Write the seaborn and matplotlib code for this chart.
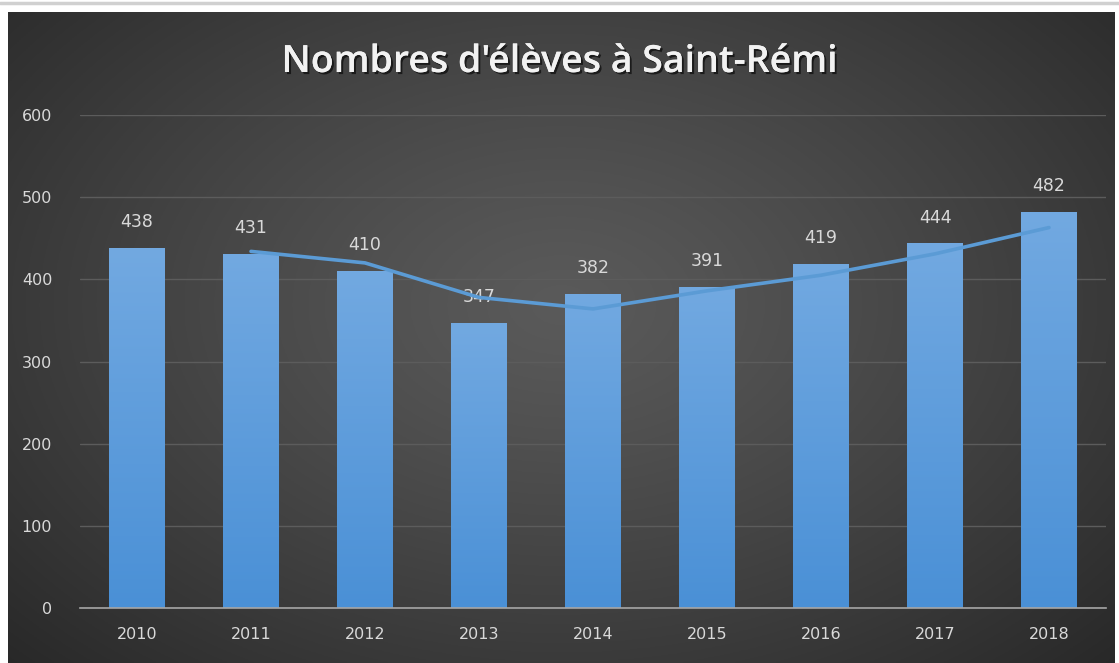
import numpy as np
import matplotlib.pyplot as plt
import matplotlib.patheffects as pe
from matplotlib.colors import LinearSegmentedColormap
from matplotlib.lines import Line2D
import seaborn as sns

years = ['2010', '2011', '2012', '2013', '2014', '2015', '2016', '2017', '2018']
students = [438, 431, 410, 347, 382, 391, 419, 444, 482]
# moving-average trend line (starts at 2011)
trend_years = ['2011', '2012', '2013', '2014', '2015', '2016', '2017', '2018']
trend_values = [434, 420, 378, 364, 386, 405, 431, 463]
y_ticks = [0, 100, 200, 300, 400, 500, 600]

TEXT = '#d9d9d9'
W, H = 1119, 663


def radial_background(ax):
    """Dark radial gradient like the Excel chart style."""
    yy, xx = np.mgrid[0:1:300j, 0:1:500j]
    r = np.sqrt(((xx - 0.5) / 0.75) ** 2 + ((yy - 0.45) / 0.85) ** 2)
    r = np.clip(r, 0, 1)
    v = (0x5a - (0x5a - 0x24) * r ** 1.2) / 255.0
    img = np.dstack([v, v, v])
    ax.imshow(img, aspect='auto', extent=[0, 1, 0, 1], origin='upper')
    ax.set_axis_off()


def main() -> None:
    sns.set_theme(style='dark')
    plt.rcParams['font.family'] = ['DejaVu Sans']

    fig = plt.figure(figsize=(W / 100, H / 100), dpi=100)
    fig.patch.set_facecolor('white')
    fig.add_artist(Line2D([0, 1], [1 - 3 / H, 1 - 3 / H], color='#d0d0d0',
                          linewidth=2.5, transform=fig.transFigure))

    # BACKGROUND PANEL
    bg = fig.add_axes([8 / W, 0, 1107 / W, 651 / H])
    radial_background(bg)

    # MAIN AX
    ax = fig.add_axes([80 / W, 55 / H, 1026 / W, 493 / H])
    ax.set_facecolor('none')
    sns.barplot(ax=ax, x=years, y=students, width=0.49, color='#5b9bd5',
                saturation=1, linewidth=0, edgecolor='none', zorder=2)

    bar_cmap = LinearSegmentedColormap.from_list('bar', ['#4a90d6', '#72a9e1'])
    grad = np.linspace(0, 1, 256).reshape(-1, 1)
    for patch in ax.patches:
        x0, y0 = patch.get_x(), patch.get_y()
        w, h = patch.get_width(), patch.get_height()
        im = ax.imshow(grad, cmap=bar_cmap, aspect='auto', origin='lower',
                       extent=[x0, x0 + w, y0, y0 + h], zorder=2.5)
        im.set_clip_path(patch)

    ax.bar_label(ax.containers[0], padding=12, color=TEXT, fontsize=12.5)

    trend_x = [years.index(y) for y in trend_years]
    sns.lineplot(ax=ax, x=trend_x, y=trend_values, color='#5b9bd5',
                 linewidth=2.6, zorder=3)

    ax.set_xlim(-0.5, len(years) - 0.5)
    ax.set_ylim(0, 600)
    ax.set_yticks(y_ticks)
    ax.set_xlabel('')
    ax.set_ylabel('')
    ax.yaxis.grid(True, color='#5c5c5c', linewidth=1)
    ax.xaxis.grid(False)
    ax.set_axisbelow(True)
    for side in ['top', 'right', 'left']:
        ax.spines[side].set_visible(False)
    ax.spines['bottom'].set_color('#a6a6a6')
    ax.spines['bottom'].set_linewidth(1.2)
    ax.tick_params(axis='x', colors=TEXT, labelsize=11.5, length=0, pad=14)
    ax.tick_params(axis='y', colors=TEXT, labelsize=11.5, length=0, pad=20)

    # TITLE
    fig.text(0.5, 1 - 62 / H, "Nombres d'élèves à Saint-Rémi", ha='center',
             va='center', color='#f2f2f2', fontsize=27, fontweight='semibold',
             family=['Open Sans', 'DejaVu Sans'],
             path_effects=[pe.withSimplePatchShadow(offset=(1.5, -1.5),
                                                    shadow_rgbFace='black',
                                                    alpha=0.6), pe.Normal()])

    fig.savefig('out.png', dpi=100, facecolor=fig.get_facecolor())


if __name__ == '__main__':
    main()
